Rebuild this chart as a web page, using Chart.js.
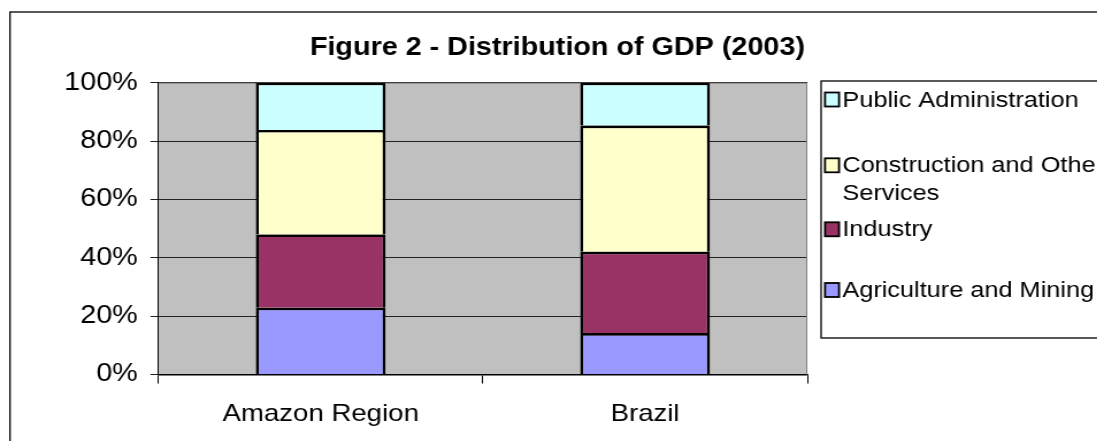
<!DOCTYPE html>
<html>
<head>
<meta charset="utf-8">
<script src="https://cdn.jsdelivr.net/npm/chart.js@4.4.1/dist/chart.umd.min.js"></script>
<style>
    html, body { margin: 0; padding: 0; background: #fff; overflow: hidden; }
    /* the original picture is stretched sideways, so draw narrower and stretch */
    #wrap { width: 954px; height: 441px; transform: scaleX(1.15); transform-origin: 0 0; }
</style>
</head>
<body>
<div id="wrap"><canvas id="gdpChart" width="954" height="441"></canvas></div>
<script>
const categories = ['Amazon Region', 'Brazil'];
const agriculture = [22.9, 14.2];
const industry = [25.1, 27.9];
const construction = [35.8, 43.2];
const publicAdmin = [16.2, 14.7];
const seriesNames = ['Agriculture and Mining', 'Industry', 'Construction and Other Services', 'Public Administration'];
const seriesColors = ['#9999FF', '#993366', '#FFFFCC', '#CCFFFF'];
const yTickLabels = ['0%', '20%', '40%', '60%', '80%', '100%'];
const titleText = 'Figure 2 - Distribution of GDP (2003)';

const FONT = "'Liberation Sans', Arial, sans-serif";

// legend text centres (first line of each entry), top to bottom
const legendRows = [99.5, 165.3, 229.3, 290];

const framePlugin = {
    id: 'frame',
    beforeDraw(chart) {
        const { ctx, chartArea: a } = chart;
        ctx.save();
        ctx.fillStyle = '#fff';
        ctx.fillRect(0, 0, chart.width, chart.height);
        // outer chart border
        ctx.strokeStyle = '#000';
        ctx.lineWidth = 1.3;
        ctx.strokeRect(8.7, 12, chart.width + 20, chart.height + 20);
        // plot background
        ctx.fillStyle = '#C0C0C0';
        ctx.fillRect(a.left, a.top, a.right - a.left, a.bottom - a.top);
        ctx.restore();
    },
    beforeDatasetsDraw(chart) {
        const { ctx, chartArea: a } = chart;
        ctx.save();
        ctx.strokeStyle = '#808080';
        ctx.lineWidth = 1;
        ctx.beginPath();
        ctx.moveTo(a.left, a.top + 0.5);
        ctx.lineTo(a.right - 0.5, a.top + 0.5);
        ctx.lineTo(a.right - 0.5, a.bottom);
        ctx.stroke();
        ctx.restore();
    },
    afterDraw(chart) {
        const ctx = chart.ctx;
        ctx.save();
        // title
        ctx.fillStyle = '#000';
        ctx.font = 'bold 25px ' + FONT;
        ctx.textAlign = 'center';
        ctx.textBaseline = 'alphabetic';
        ctx.fillText(titleText, 484.7, 55);

        // legend box
        ctx.fillStyle = '#fff';
        ctx.fillRect(714, 81, 300, 257);
        ctx.strokeStyle = '#000';
        ctx.lineWidth = 1.3;
        ctx.strokeRect(714, 81, 300, 257);

        ctx.font = '22px ' + FONT;
        ctx.textAlign = 'left';
        ctx.textBaseline = 'middle';
        const order = [3, 2, 1, 0];
        order.forEach((di, row) => {
            const ds = chart.data.datasets[di];
            const y = legendRows[row];
            ctx.fillStyle = ds.backgroundColor;
            ctx.fillRect(717.4, y - 7, 12.2, 14);
            ctx.strokeStyle = '#000';
            ctx.lineWidth = 1.8;
            ctx.strokeRect(717.4, y - 7, 12.2, 14);

            // wrap long names
            const words = ds.label.split(' ');
            const lines = [];
            let line = '';
            words.forEach(w => {
                const test = line ? line + ' ' + w : w;
                if (ctx.measureText(test).width > 235 && line) {
                    lines.push(line);
                    line = w;
                } else {
                    line = test;
                }
            });
            lines.push(line);
            ctx.fillStyle = '#000';
            lines.forEach((l, i) => ctx.fillText(l, 732.5, y + 1 + i * 27.4));
        });
        ctx.restore();
    }
};

const datasets = [agriculture, industry, construction, publicAdmin].map((vals, i) => ({
    label: seriesNames[i],
    data: vals,
    backgroundColor: seriesColors[i],
    borderColor: '#000',
    borderWidth: 2.6,
    categoryPercentage: 1,
    barPercentage: 0.4,
}));

new Chart(document.getElementById('gdpChart'), {
    type: 'bar',
    data: { labels: categories, datasets: datasets },
    options: {
        responsive: false,
        animation: false,
        layout: { padding: { top: 82.7, right: 252, left: 0, bottom: 0 } },
        plugins: {
            legend: { display: false },
            title: { display: false },
            tooltip: { enabled: false },
        },
        scales: {
            x: {
                stacked: true,
                afterFit: (scale) => { scale.height = 66.5; },
                grid: {
                    offset: true,
                    drawOnChartArea: false,
                    drawTicks: true,
                    tickLength: 9,
                    color: '#000',
                },
                border: { display: true, color: '#000', width: 1.5 },
                ticks: {
                    color: '#000',
                    font: { family: FONT, size: 24 },
                    padding: 16,
                },
            },
            y: {
                stacked: true,
                min: 0,
                max: 100,
                afterFit: (scale) => { scale.width = 137.8; },
                ticks: {
                    stepSize: 20,
                    color: '#000',
                    padding: 11,
                    font: { family: FONT, size: 25 },
                    callback: (value, index) => yTickLabels[index],
                },
                grid: {
                    color: '#222',
                    tickLength: 7,
                    lineWidth: 1,
                },
                border: { display: true, color: '#000', width: 1 },
            },
        },
    },
    plugins: [framePlugin],
});
</script>
</body>
</html>
